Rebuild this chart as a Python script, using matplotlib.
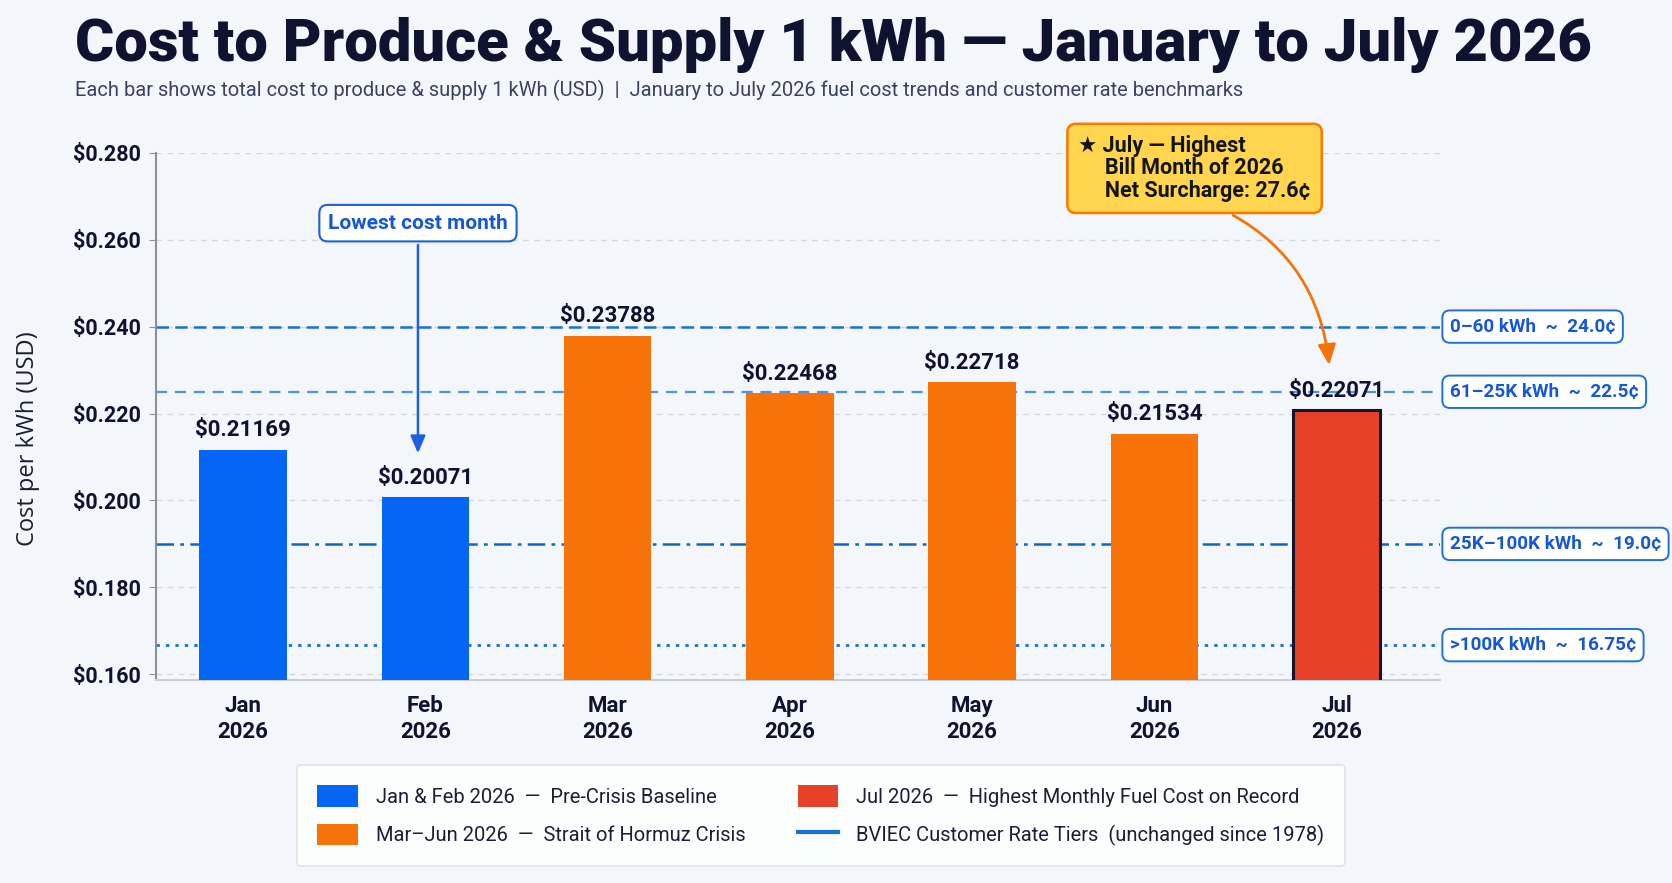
import matplotlib
matplotlib.use("Agg")
import matplotlib.pyplot as plt
import matplotlib.transforms as mtransforms
from matplotlib.patches import Patch
from matplotlib.lines import Line2D

plt.rcParams['font.family'] = ['Roboto', 'DejaVu Sans']

# ---- data -------------------------------------------------------------
months = ["Jan\n2026", "Feb\n2026", "Mar\n2026", "Apr\n2026", "May\n2026", "Jun\n2026", "Jul\n2026"]
cost = [0.21169, 0.20071, 0.23788, 0.22468, 0.22718, 0.21534, 0.22071]
phase = ["base", "base", "crisis", "crisis", "crisis", "crisis", "record"]

# tier lines as drawn in the picture (the lowest one sits a bit under 16.75)
tier_values = [0.240, 0.225, 0.190, 0.1667]
tier_labels = ["0–60 kWh  ~  24.0¢", "61–25K kWh  ~  22.5¢",
               "25K–100K kWh  ~  19.0¢", ">100K kWh  ~  16.75¢"]

yticks = [0.160, 0.180, 0.200, 0.220, 0.240, 0.260, 0.280]

legend_labels = ["Jan & Feb 2026  —  Pre-Crisis Baseline",
                 "Mar–Jun 2026  —  Strait of Hormuz Crisis",
                 "Jul 2026  —  Highest Monthly Fuel Cost on Record",
                 "BVIEC Customer Rate Tiers  (unchanged since 1978)"]

# ---- style ------------------------------------------------------------
BG = "#F3F6FA"
NAVY = "#0E1330"
BLUE = "#0566F5"
ORANGE = "#F5730A"
RED = "#E8412A"
TIER = "#1B6FD8"
colors = {"base": BLUE, "crisis": ORANGE, "record": RED}
tier_styles = [
    dict(color=TIER, lw=1.8, dashes=(5, 2.5)),
    dict(color="#4C93E6", lw=1.6, dashes=(5, 3.5)),
    dict(color="#1565C0", lw=1.8, dashes=(7, 2.5, 1.5, 2.5)),
    dict(color=TIER, lw=2.0, dashes=(1.2, 2.2)),
]

fig = plt.figure(figsize=(16.72, 8.83), dpi=100, facecolor=BG)
ax = fig.add_axes([0.0933, 0.230, 0.7679, 0.597])
ax.set_facecolor(BG)

x = list(range(len(months)))
bars = ax.bar(x, cost, width=0.48, color=[colors[p] for p in phase], zorder=3)
bars[-1].set_edgecolor("#14142A")
bars[-1].set_linewidth(2.2)

for xi, v in zip(x, cost):
    ax.annotate(f"${v:.5f}", (xi, v), xytext=(0, 6), textcoords="offset points",
                ha="center", va="bottom", fontsize=16, fontweight="bold", color=NAVY, zorder=5)

# customer rate tiers
lab_tr = mtransforms.blended_transform_factory(ax.transAxes, ax.transData)
for val, lab, st in zip(tier_values, tier_labels, tier_styles):
    ax.axhline(val, zorder=2, **st)
    ax.text(1.0075, val, lab, transform=lab_tr, ha="left", va="center",
            fontsize=13.6, fontweight="bold", color="#1457D9", clip_on=False,
            bbox=dict(boxstyle="round,pad=0.38,rounding_size=0.4", fc="white", ec="#1F6FE0", lw=1.4))

ax.set_xlim(-0.477, 6.566)
ax.set_ylim(0.1587, 0.280)
ax.set_yticks(yticks)
ax.set_yticklabels([f"${t:.3f}" for t in yticks])
ax.set_xticks(x)
ax.set_xticklabels(months)
ax.grid(axis="y", color="#D3D7DE", ls=(0, (4, 4)), lw=1.0, zorder=0)
ax.set_axisbelow(True)

for s in ["top", "right"]:
    ax.spines[s].set_visible(False)
ax.spines["left"].set_color("#8A909E")
ax.spines["left"].set_linewidth(1.5)
ax.spines["bottom"].set_color("#C9CDD5")
ax.spines["bottom"].set_linewidth(1.5)
ax.tick_params(axis="y", length=5, color="#8A909E", labelsize=15.5, labelcolor=NAVY, pad=6)
ax.tick_params(axis="x", length=0, labelsize=16, labelcolor=NAVY, pad=11)
for t in ax.get_xticklabels() + ax.get_yticklabels():
    t.set_fontweight("bold")
ax.set_ylabel("Cost per kWh (USD)", fontsize=17, color="#1A1F33", family=["Open Sans", "DejaVu Sans"])
ax.yaxis.set_label_coords(-0.090, 0.457)

# call-outs
ax.annotate("Lowest cost month", xy=(0.96, 0.2102), xytext=(0.96, 0.2638),
            ha="center", va="center", fontsize=15, fontweight="bold", color="#1457D9",
            bbox=dict(boxstyle="round,pad=0.42,rounding_size=0.4", fc="white", ec="#1F5FE0", lw=1.5),
            arrowprops=dict(arrowstyle="-|>,head_length=0.7,head_width=0.3", color="#1F5FE0", lw=1.8),
            zorder=6)

ax.annotate("★ July — Highest\n     Bill Month of 2026\n     Net Surcharge: 27.6¢",
            xy=(5.96, 0.2305), xytext=(5.22, 0.2764),
            ha="center", va="center", multialignment="left", linespacing=1.05,
            fontsize=15.5, fontweight="bold", color="#141414", annotation_clip=False,
            bbox=dict(boxstyle="round,pad=0.5,rounding_size=0.4", fc="#FFD54F", ec="#F57C00", lw=1.8),
            arrowprops=dict(arrowstyle="-|>,head_length=0.8,head_width=0.35", color="#F5730A", lw=2,
                            connectionstyle="arc3,rad=-0.3", relpos=(0.55, 0.0)),
            zorder=6)

# titles
fig.text(0.045, 0.931, "Cost to Produce & Supply 1 kWh — January to July 2026",
         fontsize=43, fontweight="black", color=NAVY, va="baseline", ha="left")
fig.text(0.045, 0.891, "Each bar shows total cost to produce & supply 1 kWh (USD)  |  "
         "January to July 2026 fuel cost trends and customer rate benchmarks",
         fontsize=14.5, color="#3A4262", va="baseline", ha="left")

# legend
handles = [Patch(fc=BLUE), Patch(fc=ORANGE), Patch(fc=RED),
           Line2D([], [], color=TIER, lw=3)]
leg = fig.legend(handles, legend_labels, loc="center", bbox_to_anchor=(0.491, 0.0764),
                 ncol=2, fontsize=14.5, frameon=True, fancybox=True, handlelength=2.0,
                 handleheight=1.25, handletextpad=0.9, columnspacing=2.6, labelspacing=0.85,
                 borderpad=1.0, borderaxespad=0)
leg.get_frame().set_facecolor("white")
leg.get_frame().set_edgecolor("#DADDE3")
leg.get_frame().set_linewidth(1.2)
for t in leg.get_texts():
    t.set_color("#1A1F33")

fig.savefig("out.png", dpi=100, facecolor=BG)
